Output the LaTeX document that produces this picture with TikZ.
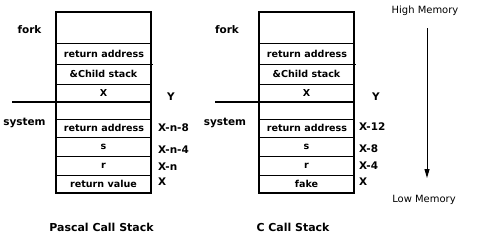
\documentclass[tikz,border=0pt]{standalone}
\usepackage{fontspec}
\setmainfont{DejaVu Sans}
\usetikzlibrary{arrows.meta}
\tikzset{
  celltext/.style={font=\fontsize{9.6}{9.6}\bfseries\selectfont, inner sep=0pt, anchor=center},
  lbl/.style={font=\fontsize{10.5}{10.5}\bfseries\selectfont, inner sep=0pt},
  titletext/.style={font=\fontsize{11}{11}\bfseries\selectfont, inner sep=0pt},
  memtext/.style={font=\fontsize{10}{10}\selectfont, inner sep=0pt},
  thickline/.style={line width=2bp},
  thinline/.style={line width=1bp},
}
\begin{document}
\begin{tikzpicture}[x=1bp,y=-1bp]
\useasboundingbox (0,0) rectangle (480,237);
% ---------- stacks ----------
\foreach \L/\R/\S in {56/151/12, 259/354/215}{
  \draw[thinline] (\L,43) -- (\R,43);
  \draw[thinline] (\L,64) -- (\R+2,64);
  \draw[thinline] (\L,84) -- (\R,84);
  \draw[thinline] (\L,119) -- (\R,119);
  \draw[thinline] (\L,137) -- (\R,137);
  \draw[thinline] (\L,156) -- (\R,156);
  \draw[thinline] (\L,175) -- (\R,175);
  \draw[thickline] (\S,102) -- (\R,102);
  \draw[thickline] (\L,12) rectangle (\R,193);
}
% left stack text
\node[celltext] (la) at (104,53.5) {return address};
\node[celltext] (lb) at (103.5,74) {\&Child stack};
\node[celltext] (lc) at (103.5,93) {X};
\node[celltext] (ld) at (104,128) {return address};
\node[celltext] (le) at (103.5,146.5) {s};
\node[celltext] (lf) at (103.5,165.5) {r};
\node[celltext] (lg) at (103.5,184) {return value};
\node[lbl] (lfork) at (29.5,29.5) {fork};
\node[lbl] (lsys) at (24.5,122.5) {system};
\node[lbl] (lY) at (171,97) {Y};
\node[lbl,anchor=west] (l1) at (158,127.5) {X-n-8};
\node[lbl,anchor=west] (l2) at (158,149.5) {X-n-4};
\node[lbl,anchor=west] (l3) at (158,166.5) {X-n};
\node[lbl,anchor=west] (l4) at (158,182) {X};
\node[titletext] (ltitle) at (101.5,227) {Pascal Call Stack};
% right stack text
\node[celltext] (ra) at (307,53.5) {return address};
\node[celltext] (rb) at (306.5,74) {\&Child stack};
\node[celltext] (rc) at (306.5,93) {X};
\node[celltext] (rd) at (307,128) {return address};
\node[celltext] (re) at (306.5,146.5) {s};
\node[celltext] (rf) at (306.5,165.5) {r};
\node[celltext] (rg) at (306.5,184) {fake};
\node[lbl] (rfork) at (227,29.5) {fork};
\node[lbl] (rsys) at (225,122.5) {system};
\node[lbl] (rY) at (376,97) {Y};
\node[lbl,anchor=west] (r1) at (359,127) {X-12};
\node[lbl,anchor=west] (r2) at (359,149) {X-8};
\node[lbl,anchor=west] (r3) at (359,166) {X-4};
\node[lbl,anchor=west] (r4) at (359,182) {X};
\node[titletext] (rtitle) at (293,227) {C Call Stack};
% memory arrow
\node[memtext] (high) at (425,11) {High Memory};
\node[memtext] (low) at (424,199.5) {Low Memory};
\coordinate (atop) at (427,28);
\coordinate (abot) at (427,178);
\draw[thinline,-{Triangle[length=9bp,width=5bp]}] (atop) -- (abot);
\end{tikzpicture}
\end{document}
